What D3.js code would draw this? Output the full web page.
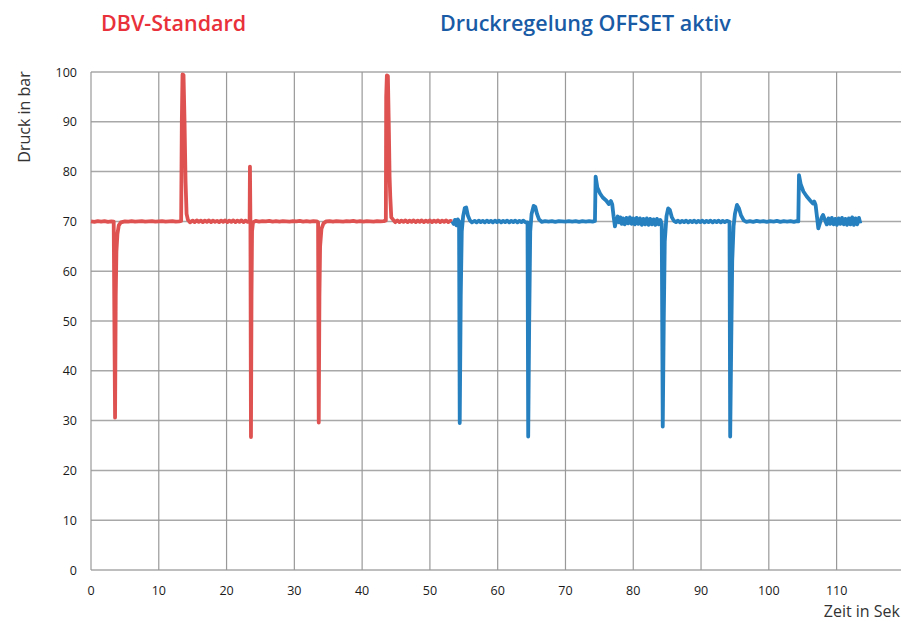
<!DOCTYPE html>
<html lang="de">
<head>
<meta charset="UTF-8">
<title>Druckverlauf DBV</title>
<script src="https://d3js.org/d3.v7.min.js"></script>
<style>
  html, body { margin: 0; padding: 0; background: #fff; }
  svg { display: block; }
  .tick-label { font-family: "Open Sans", sans-serif; font-size: 12.5px; fill: #1a1a1a; }
  .axis-title { font-family: "Open Sans", sans-serif; font-size: 16px; fill: #333; }
  .title { font-family: "Open Sans", sans-serif; font-size: 21.5px; font-weight: 600; }
</style>
</head>
<body>
<script>
// tick values
const xTicks = [0, 10, 20, 30, 40, 50, 60, 70, 80, 90, 100, 110];
const yTicks = [0, 10, 20, 30, 40, 50, 60, 70, 80, 90, 100];

// DBV-Standard: [Zeit s, Druck bar]
const dbvStandard = [
  [0,70.0],[0.5,69.9],[1,70.05],[1.5,69.95],[2,70.05],[2.5,69.9],[3,70.0],[3.35,69.95],
  [3.45,50],[3.55,30.6],[3.65,55],[3.75,64],[3.9,67.5],[4.1,69.2],[4.4,69.8],
  [5,70.0],[5.5,69.95],[6,70.05],[6.5,69.95],[7,70.0],[7.5,70.05],[8,69.95],[8.5,70.0],
  [9,70.05],[9.5,69.95],[10,70.0],[10.5,70.05],[11,69.95],[11.5,70.0],[12,70.05],[12.5,69.95],
  [13,70.0],[13.3,70.1],[13.4,90],[13.5,99.5],[13.65,99.4],[13.8,90],[13.95,78],
  [14.1,71.5],[14.3,70.3],[14.6,69.8],[15,70.15],[15.3,69.85],[15.6,70.2],[15.9,69.9],
  [16.2,70.15],[16.5,69.85],[16.8,70.15],[17.1,69.9],[17.4,70.2],[17.7,69.85],[18,70.15],
  [18.3,69.9],[18.6,70.1],[18.9,69.85],[19.2,70.15],[19.5,69.9],[19.8,70.2],[20.1,69.85],
  [20.4,70.15],[20.7,69.9],[21,70.2],[21.3,69.85],[21.6,70.15],[21.9,69.9],[22.2,70.2],
  [22.5,69.85],[22.8,70.15],[23.1,69.9],[23.4,70.0],
  [23.45,81],[23.52,70],[23.6,26.7],[23.68,55],[23.76,68],[23.9,69.8],[24.3,70.1],
  [24.8,69.95],[25.3,70.05],[25.8,70.0],[26.3,70.1],[26.8,69.95],[27.3,70.05],[27.8,69.95],
  [28.3,70.05],[28.8,70.0],[29.3,69.95],[29.8,70.05],[30.3,70.0],[30.8,70.1],[31.3,69.95],
  [31.8,70.05],[32.3,69.95],[32.8,70.05],[33.3,70.0],[33.5,69.8],
  [33.6,29.6],[33.7,55],[33.8,65],[34,68.5],[34.3,69.6],[34.7,70.0],
  [35.2,70.05],[35.7,69.95],[36.2,70.05],[36.7,70.0],[37.2,69.95],[37.7,70.05],[38.2,70.0],
  [38.7,70.1],[39.2,69.95],[39.7,70.05],[40.2,69.95],[40.7,70.05],[41.2,70.0],[41.7,69.95],
  [42.2,70.05],[42.7,70.0],[43.2,70.05],[43.5,70.2],
  [43.55,95],[43.65,99.3],[43.8,99.2],[43.95,88],[44.05,79],[44.15,75],[44.3,70.8],
  [44.6,70.3],[44.9,69.85],[45.2,70.2],[45.5,69.85],[45.8,70.15],[46.1,69.9],[46.4,70.2],
  [46.7,69.85],[47,70.15],[47.3,69.9],[47.6,70.2],[47.9,69.85],[48.2,70.15],[48.5,69.9],
  [48.8,70.2],[49.1,69.85],[49.4,70.15],[49.7,69.9],[50,70.2],[50.3,69.85],[50.6,70.15],
  [50.9,69.9],[51.2,70.2],[51.5,69.85],[51.8,70.15],[52.1,69.9],[52.4,70.2],[52.7,69.85],
  [53,70.1],[53.3,70.0]
];

// Druckregelung OFFSET aktiv: [Zeit s, Druck bar]
const offsetAktiv = [
  [53.3,70.0],[53.5,69.5],[53.7,70.3],[53.9,69.2],[54.1,70.4],[54.3,70.0],
  [54.4,29.5],[54.55,55],[54.7,68],[54.9,71],[55.15,72.7],[55.35,72.8],[55.6,71.2],
  [55.9,70.2],[56.2,69.8],[56.6,70.1],[56.9,69.8],[57.2,70.15],[57.5,69.85],[57.8,70.1],
  [58.1,69.8],[58.4,70.15],[58.7,69.85],[59,70.1],[59.3,69.8],[59.6,70.15],[59.9,69.85],
  [60.2,70.15],[60.5,69.8],[60.8,70.1],[61.1,69.85],[61.4,70.15],[61.7,69.8],[62,70.1],
  [62.3,69.85],[62.6,70.15],[62.9,69.8],[63.2,70.1],[63.5,69.85],[63.8,70.15],[64.1,69.8],
  [64.4,69.8],
  [64.5,26.8],[64.65,50],[64.8,68],[65.0,71.5],[65.3,73.1],[65.55,72.9],[65.8,71.5],
  [66.1,70.4],[66.5,69.9],[67,70.05],[67.5,69.95],[68,70.05],[68.5,69.9],[69,70.05],
  [69.5,70.0],[70,69.95],[70.5,70.05],[71,69.95],[71.5,70.05],[72,69.9],[72.5,70.05],
  [73,69.95],[73.5,70.05],[74,69.95],[74.35,70.1],
  [74.45,79.0],[74.7,76.8],[75.1,75.6],[75.5,74.8],[76,74.2],[76.4,73.5],[76.7,74.1],
  [76.9,73.4],[77.1,71],[77.3,69.0],[77.5,70.3],[77.7,71.0],[77.9,69.8],[78.1,70.8],
  [78.3,69.5],[78.5,70.6],[78.75,69.4],[79,70.7],[79.25,69.6],[79.5,70.8],[79.75,69.5],
  [80,70.6],[80.25,69.4],[80.5,70.7],[80.75,69.5],[81,70.6],[81.25,69.3],[81.5,70.5],
  [81.75,69.4],[82,70.6],[82.25,69.3],[82.5,70.5],[82.75,69.4],[83,70.4],[83.25,69.3],
  [83.5,70.5],[83.75,69.4],[84,70.3],[84.2,69.5],
  [84.35,28.8],[84.5,50],[84.65,66],[84.9,71],[85.15,72.6],[85.4,72.3],[85.7,70.8],
  [86,70.1],[86.3,69.85],[86.6,70.15],[86.9,69.8],[87.2,70.1],[87.5,69.85],[87.8,70.15],
  [88.1,69.8],[88.4,70.1],[88.7,69.85],[89,70.15],[89.3,69.8],[89.6,70.1],[89.9,69.85],
  [90.2,70.15],[90.5,69.8],[90.8,70.1],[91.1,69.85],[91.4,70.15],[91.7,69.8],[92,70.1],
  [92.3,69.85],[92.6,70.15],[92.9,69.8],[93.2,70.1],[93.5,69.85],[93.8,70.1],[94.2,69.9],
  [94.3,26.8],[94.45,45],[94.6,62],[94.8,69],[95.0,71.5],[95.3,73.3],[95.6,72.6],
  [95.9,71.2],[96.3,70.2],[96.7,69.9],[97.2,70.05],[97.7,69.9],[98.2,70.1],[98.7,69.95],
  [99.2,70.05],[99.7,69.9],[100.2,70.05],[100.7,69.95],[101.2,70.1],[101.7,69.9],
  [102.2,70.05],[102.7,69.95],[103.2,70.05],[103.7,69.9],[104.1,70.05],[104.35,70.0],
  [104.45,79.3],[104.7,77.5],[105.1,76.0],[105.6,75.0],[106.1,74.2],[106.5,73.6],
  [106.7,74.0],[106.9,73.3],[107.1,71],[107.3,68.6],[107.5,69.5],[107.8,70.8],
  [108.0,71.3],[108.3,70.2],[108.55,69.4],[108.8,70.6],[109.05,69.5],[109.3,70.7],
  [109.55,69.4],[109.8,70.5],[110.05,69.3],[110.3,70.6],[110.55,69.5],[110.8,70.7],
  [111.05,69.4],[111.3,70.5],[111.55,69.3],[111.8,70.6],[112.05,69.4],[112.3,70.8],
  [112.55,69.3],[112.8,70.6],[113.05,69.4],[113.3,70.7],[113.5,69.6]
];

const width = 902, height = 622;
const svg = d3.select('body').append('svg')
  .attr('width', width)
  .attr('height', height);

const x = d3.scaleLinear().domain([0, 119.5]).range([91, 901]);
const y = d3.scaleLinear().domain([0, 100]).range([570, 72]);

// grid
svg.append('g')
  .selectAll('line')
  .data(yTicks)
  .enter().append('line')
    .attr('x1', x(0)).attr('x2', x(119.5))
    .attr('y1', d => y(d)).attr('y2', d => y(d))
    .attr('stroke', '#a8a8a8')
    .attr('stroke-width', 1.5);

svg.append('g')
  .selectAll('line')
  .data(xTicks)
  .enter().append('line')
    .attr('x1', d => x(d)).attr('x2', d => x(d))
    .attr('y1', y(0)).attr('y2', y(100))
    .attr('stroke', '#999')
    .attr('stroke-width', 1.2);

// tick labels
svg.append('g')
  .selectAll('text')
  .data(yTicks)
  .enter().append('text')
    .attr('class', 'tick-label')
    .attr('x', 77)
    .attr('y', d => y(d) + 4.5)
    .attr('text-anchor', 'end')
    .text(d => d);

svg.append('g')
  .selectAll('text')
  .data(xTicks)
  .enter().append('text')
    .attr('class', 'tick-label')
    .attr('x', d => x(d))
    .attr('y', 595)
    .attr('text-anchor', 'middle')
    .text(d => d);

// axis titles
svg.append('text')
  .attr('class', 'axis-title')
  .attr('transform', 'translate(30,117) rotate(-90)')
  .attr('text-anchor', 'middle')
  .text('Druck in bar');

svg.append('text')
  .attr('class', 'axis-title')
  .attr('x', 900)
  .attr('y', 617)
  .attr('text-anchor', 'end')
  .text('Zeit in Sek');

// series
const line = d3.line()
  .x(d => x(d[0]))
  .y(d => y(d[1]));

svg.append('path')
  .datum(dbvStandard)
  .attr('fill', 'none')
  .attr('stroke', '#de5352')
  .attr('stroke-width', 3.8)
  .attr('stroke-linejoin', 'round')
  .attr('d', line);

svg.append('path')
  .datum(offsetAktiv)
  .attr('fill', 'none')
  .attr('stroke', '#2680c0')
  .attr('stroke-width', 3.8)
  .attr('stroke-linejoin', 'round')
  .attr('d', line);

// titles
svg.append('text')
  .attr('class', 'title')
  .attr('x', 101)
  .attr('y', 31)
  .attr('fill', '#e8313a')
  .text('DBV-Standard');

svg.append('text')
  .attr('class', 'title')
  .attr('x', 440)
  .attr('y', 31)
  .attr('fill', '#1a5ba6')
  .text('Druckregelung OFFSET aktiv');
</script>
</body>
</html>
